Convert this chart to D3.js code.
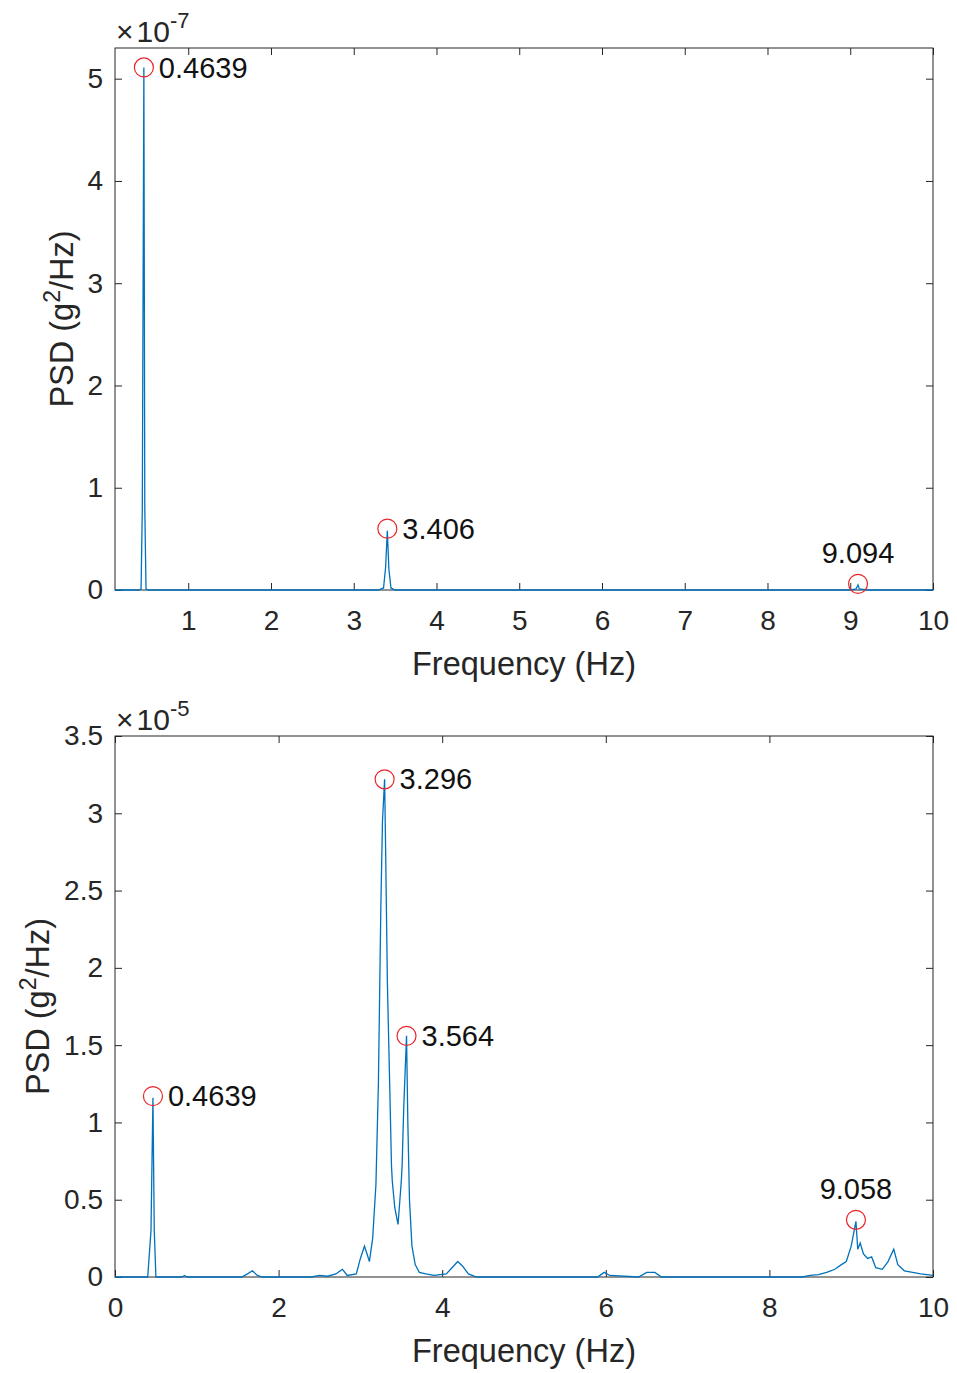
<!DOCTYPE html>
<html>
<head>
<meta charset="utf-8">
<script src="https://cdn.jsdelivr.net/npm/d3@7"></script>
<style>
  body { margin: 0; background: #fff; }
  svg text { font-family: "Liberation Sans", Arial, sans-serif; fill: #262626; }
</style>
</head>
<body>
<svg id="chart" width="957" height="1373"></svg>
<script>
// top panel: PSD in units of 1e-7 g^2/Hz
const topFreq = [0.115, 0.40, 0.43, 0.445, 0.4639, 0.475, 0.49, 0.52, 3.30, 3.36, 3.385, 3.406, 3.425, 3.45, 3.50,
                 9.00, 9.07, 9.094, 9.11, 9.20, 10];
const topPsd  = [0, 0, 0.01, 0.8, 5.11, 0.8, 0.01, 0, 0, 0.02, 0.22, 0.58, 0.2, 0.02, 0,
                 0, 0.01, 0.05, 0.01, 0, 0];
const topPeakFreq = [0.4639, 3.406, 9.094];
const topPeakPsd  = [5.11, 0.60, 0.06];
const topPeakText = ['0.4639', '3.406', '9.094'];

// bottom panel: PSD in units of 1e-5 g^2/Hz
const botFreq = [0.0, 0.40, 0.44, 0.4639, 0.48, 0.50, 0.82, 0.85, 0.88, 1.55, 1.62, 1.68, 1.74, 1.80,
                 2.40, 2.50, 2.60, 2.70, 2.78, 2.84, 2.95, 3.00, 3.05, 3.08, 3.11, 3.15, 3.19, 3.22, 3.25,
                 3.27, 3.296, 3.31, 3.33, 3.36, 3.38, 3.39, 3.42, 3.46, 3.49, 3.50, 3.51, 3.53, 3.564, 3.58, 3.60, 3.63,
                 3.67, 3.72, 3.80, 3.90, 4.05, 4.12, 4.19, 4.25, 4.32, 4.42, 5.90, 5.98, 6.05, 6.40, 6.50,
                 6.60, 6.68, 8.40, 8.50, 8.60, 8.70, 8.80, 8.88, 8.94, 9.00, 9.058, 9.08, 9.11, 9.15, 9.20,
                 9.25, 9.30, 9.38, 9.45, 9.52, 9.57, 9.65, 9.75, 9.85, 10];
const botPsd  = [0, 0, 0.3, 1.16, 0.3, 0, 0, 0.01, 0, 0, 0.02, 0.04, 0.01, 0,
                 0, 0.01, 0.005, 0.02, 0.05, 0.01, 0.02, 0.12, 0.2, 0.15, 0.1, 0.25, 0.6, 1.25, 2.4,
                 2.95, 3.22, 2.7, 1.9, 1.2, 0.72, 0.62, 0.45, 0.34, 0.55, 0.62, 0.72, 1.1, 1.56, 1.0, 0.5, 0.2,
                 0.08, 0.03, 0.02, 0.01, 0.02, 0.06, 0.1, 0.07, 0.02, 0, 0, 0.03, 0.01, 0, 0.03,
                 0.03, 0, 0, 0.01, 0.015, 0.03, 0.05, 0.08, 0.1, 0.2, 0.36, 0.18, 0.22, 0.15, 0.12,
                 0.13, 0.06, 0.05, 0.1, 0.18, 0.08, 0.04, 0.03, 0.02, 0.01];
const botPeakFreq = [0.4639, 3.296, 3.564, 9.058];
const botPeakPsd  = [1.17, 3.22, 1.56, 0.37];
const botPeakText = ['0.4639', '3.296', '3.564', '9.058'];

const topXTicks = [1, 2, 3, 4, 5, 6, 7, 8, 9, 10];
const topYTicks = [0, 1, 2, 3, 4, 5];
const botXTicks = [0, 2, 4, 6, 8, 10];
const botYTicks = [0, 0.5, 1, 1.5, 2, 2.5, 3, 3.5];

const svg = d3.select('#chart');
const axisColor = '#262626';
const lineColor = '#0072BD';

function drawPanel(opt) {
    const x = d3.scaleLinear().domain(opt.xDomain).range([opt.left, opt.right]);
    const y = d3.scaleLinear().domain(opt.yDomain).range([opt.bottom, opt.top]);
    const g = svg.append('g');

    // frame
    g.append('rect')
        .attr('x', opt.left).attr('y', opt.top)
        .attr('width', opt.right - opt.left).attr('height', opt.bottom - opt.top)
        .attr('fill', 'none').attr('stroke', axisColor).attr('stroke-width', 1);

    const styleAxis = sel => {
        sel.select('.domain').remove();
        sel.selectAll('line').attr('stroke', axisColor);
        sel.selectAll('text').attr('font-size', 28).attr('fill', axisColor)
            .attr('font-family', '"Liberation Sans", Arial, sans-serif');
    };

    g.append('g').attr('transform', `translate(0,${opt.bottom})`)
        .call(d3.axisBottom(x).tickValues(opt.xTicks).tickSize(-7).tickPadding(20).tickFormat(d3.format('')))
        .call(styleAxis);
    g.append('g').attr('transform', `translate(0,${opt.top})`)
        .call(d3.axisTop(x).tickValues(opt.xTicks).tickSize(-7).tickFormat(''))
        .call(styleAxis);
    g.append('g').attr('transform', `translate(${opt.left},0)`)
        .call(d3.axisLeft(y).tickValues(opt.yTicks).tickSize(-7).tickPadding(12).tickFormat(d3.format('')))
        .call(styleAxis);
    g.append('g').attr('transform', `translate(${opt.right},0)`)
        .call(d3.axisRight(y).tickValues(opt.yTicks).tickSize(-7).tickFormat(''))
        .call(styleAxis);

    // spectrum line
    const pts = d3.zip(opt.freq, opt.psd);
    g.append('path')
        .datum(pts)
        .attr('fill', 'none')
        .attr('stroke', lineColor)
        .attr('stroke-width', 1.3)
        .attr('d', d3.line().x(d => x(d[0])).y(d => y(d[1])));

    // peak markers + labels
    const peaks = d3.zip(opt.peakFreq, opt.peakPsd, opt.peakText);
    g.selectAll('circle.pk').data(peaks).enter().append('circle')
        .attr('class', 'pk')
        .attr('cx', d => x(d[0])).attr('cy', d => y(d[1]))
        .attr('r', 9.5)
        .attr('fill', 'none').attr('stroke', '#e8262c').attr('stroke-width', 1.2);

    g.selectAll('text.pk').data(peaks).enter().append('text')
        .attr('class', 'pk')
        .attr('font-size', 29)
        .style('fill', '#111')
        .attr('x', (d, i) => opt.above[i] ? x(d[0]) : x(d[0]) + 15)
        .attr('y', (d, i) => opt.above[i] ? y(d[1]) - 31 : y(d[1]))
        .attr('dy', '0.35em')
        .attr('text-anchor', (d, i) => opt.above[i] ? 'middle' : 'start')
        .text(d => d[2]);

    // exponent label
    const ex = g.append('text').attr('x', opt.left + 1).attr('y', opt.top - 6).attr('font-size', 30);
    ex.append('tspan').text('\u00d7');
    ex.append('tspan').attr('dx', 3).text('10');
    ex.append('tspan').attr('dy', -14).attr('font-size', 22).text(opt.exponent);

    // axis titles
    g.append('text')
        .attr('x', (opt.left + opt.right) / 2)
        .attr('y', opt.bottom + 85)
        .attr('text-anchor', 'middle')
        .attr('font-size', 32.5)
        .text('Frequency (Hz)');

    const yl = g.append('text')
        .attr('transform', `translate(${opt.yLabelX},${(opt.top + opt.bottom) / 2}) rotate(-90)`)
        .attr('text-anchor', 'middle')
        .attr('font-size', 32.5);
    yl.append('tspan').text('PSD (g');
    yl.append('tspan').attr('dy', -13).attr('font-size', 23).text('2');
    yl.append('tspan').attr('dy', 13).text('/Hz)');
}

drawPanel({
    left: 115, right: 933, top: 48, bottom: 590,
    xDomain: [0.115, 10], yDomain: [0, 5.3],
    xTicks: topXTicks, yTicks: topYTicks,
    freq: topFreq, psd: topPsd,
    peakFreq: topPeakFreq, peakPsd: topPeakPsd, peakText: topPeakText,
    above: [false, false, true],
    exponent: '-7', yLabelX: 73
});

drawPanel({
    left: 115, right: 933, top: 736, bottom: 1277,
    xDomain: [0, 10], yDomain: [0, 3.5],
    xTicks: botXTicks, yTicks: botYTicks,
    freq: botFreq, psd: botPsd,
    peakFreq: botPeakFreq, peakPsd: botPeakPsd, peakText: botPeakText,
    above: [false, false, false, true],
    exponent: '-5', yLabelX: 49
});
</script>
</body>
</html>
